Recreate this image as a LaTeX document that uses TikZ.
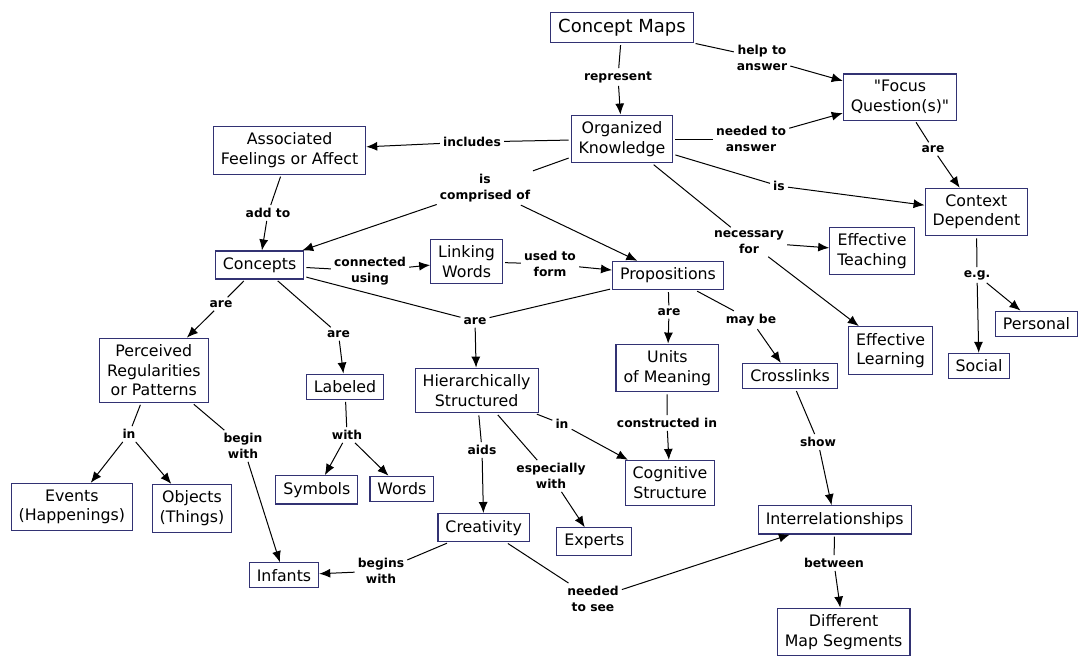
\documentclass[tikz,border=0pt]{standalone}
\usepackage{fontspec}
\setmainfont{DejaVu Sans}[Ligatures=TeXOff]
\usetikzlibrary{arrows.meta}
\definecolor{cmapblue}{RGB}{50,50,115}

\begin{document}
\begin{tikzpicture}[x=1pt,y=-1pt,
   concept/.style={draw=cmapblue,line width=1.1pt,fill=white,align=center,
     inner xsep=7.5pt,inner ysep=6.5pt,font=\fontsize{15.8}{19.5}\selectfont},
   linkword/.style={align=center,inner sep=3pt,font=\bfseries\fontsize{12.3}{16}\selectfont},
   plain/.style={line width=1pt,shorten <=2pt},
   arr/.style={line width=1pt,-{Latex[length=11pt,width=9pt]}}]
  \useasboundingbox (0,0) rectangle (1078,657);
  % concepts
  \node[concept,font=\fontsize{18}{21}\selectfont] (ConceptMaps) at (622,27.5) {Concept Maps};
  \node[concept] (Focus)      at (900,97)      {"Focus\\Question(s)"};
  \node[concept] (OrgKnow)    at (622,139)     {Organized\\Knowledge};
  \node[concept] (Associated) at (289.6,150.3) {Associated\\Feelings or Affect};
  \node[concept] (Context)    at (976.4,212)   {Context\\Dependent};
  \node[concept] (EffTeach)   at (872,251)     {Effective\\Teaching};
  \node[concept] (Concepts)   at (259.6,265)   {Concepts};
  \node[concept] (LinkWords)  at (466.6,261.5) {Linking\\Words};
  \node[concept] (Props)      at (668,275.5)   {Propositions};
  \node[concept] (Personal)   at (1036.5,323.7){Personal};
  \node[concept] (Social)     at (979,366)     {Social};
  \node[concept] (EffLearn)   at (890.7,350.5) {Effective\\Learning};
  \node[concept] (Crosslinks) at (790,376)     {Crosslinks};
  \node[concept] (Units)      at (667.4,368)   {Units\\of Meaning};
  \node[concept] (Perceived)  at (153.8,370.3) {Perceived\\Regularities\\or Patterns};
  \node[concept] (Labeled)    at (345,386.7)   {Labeled};
  \node[concept] (Hier)       at (476.6,390.5) {Hierarchically\\Structured};
  \node[concept] (Cognitive)  at (670,482.8)   {Cognitive\\Structure};
  \node[concept] (Events)     at (71.8,507)    {Events\\(Happenings)};
  \node[concept] (Objects)    at (192,508.3)   {Objects\\(Things)};
  \node[concept] (Symbols)    at (316.8,489.8) {Symbols};
  \node[concept] (Words)      at (401.9,488.8) {Words};
  \node[concept] (Interrel)   at (834.7,519.8) {Interrelationships};
  \node[concept] (Creativity) at (483.7,527.7) {Creativity};
  \node[concept] (Experts)    at (594.3,541.7) {Experts};
  \node[concept] (Infants)    at (284,575.3)   {Infants};
  \node[concept] (MapSeg)     at (843.6,632)   {Different\\Map Segments};
  % linking phrases
  \node[linkword] (Represent)   at (618,77)  {represent};
  \node[linkword] (HelpTo)      at (762,58)  {help to\\answer};
  \node[linkword] (NeededTo)    at (751,139) {needed to\\answer};
  \node[linkword] (AreFC)       at (933,149) {are};
  \node[linkword] (Is)          at (779,186) {is};
  \node[linkword] (Necessary)   at (749,242) {necessary\\for};
  \node[linkword] (EG)          at (977,275) {e.g.};
  \node[linkword] (Includes)    at (472,142) {includes};
  \node[linkword] (Comprised)   at (485,188) {is\\comprised of};
  \node[linkword] (AddTo)       at (268,213) {add to};
  \node[linkword] (Connected)   at (370,271) {connected\\using};
  \node[linkword] (UsedTo)      at (550,264) {used to\\form};
  \node[linkword] (ArePR)       at (221,304) {are};
  \node[linkword] (AreLab)      at (338.5,334) {are};
  \node[linkword] (AreHier)     at (475,321) {are};
  \node[linkword] (AreUnits)    at (669,312) {are};
  \node[linkword] (MayBe)       at (751,320) {may be};
  \node[linkword] (InPR)        at (129,434) {in};
  \node[linkword] (BeginWith)   at (243,446) {begin\\with};
  \node[linkword] (With)        at (347,435) {with};
  \node[linkword] (Aids)        at (482,450) {aids};
  \node[linkword] (Especially)  at (551,476) {especially\\with};
  \node[linkword] (InCog)       at (562,424) {in};
  \node[linkword] (Constructed) at (667,423) {constructed in};
  \node[linkword] (Show)        at (818,442) {show};
  \node[linkword] (BeginsWith)  at (381,571) {begins\\with};
  \node[linkword] (NeededSee)   at (593,599) {needed\\to see};
  \node[linkword] (Between)     at (834,563) {between};
  % concept to linking phrase
  \foreach \a/\b in {ConceptMaps/Represent,ConceptMaps/HelpTo,OrgKnow/NeededTo,
      Focus/AreFC,OrgKnow/Is,OrgKnow/Necessary,Context/EG,OrgKnow/Includes,
      OrgKnow/Comprised,Associated/AddTo,Concepts/Connected,LinkWords/UsedTo,
      Concepts/ArePR,Concepts/AreLab,Concepts/AreHier,Props/AreHier,Props/AreUnits,
      Props/MayBe,Perceived/InPR,Perceived/BeginWith,Labeled/With,Hier/Aids,
      Hier/Especially,Hier/InCog,Units/Constructed,Crosslinks/Show,
      Creativity/BeginsWith,Creativity/NeededSee,Interrel/Between}
    \draw[plain] (\a) -- (\b);
  % linking phrase to concept
  \foreach \a/\b in {Represent/OrgKnow,HelpTo/Focus,NeededTo/Focus,AreFC/Context,
      Is/Context,Necessary/EffTeach,Necessary/EffLearn,EG/Personal,EG/Social,
      Includes/Associated,Comprised/Concepts,Comprised/Props,AddTo/Concepts,
      Connected/LinkWords,UsedTo/Props,ArePR/Perceived,AreLab/Labeled,AreHier/Hier,
      AreUnits/Units,MayBe/Crosslinks,InPR/Events,InPR/Objects,BeginWith/Infants,
      With/Symbols,With/Words,Aids/Creativity,Especially/Experts,InCog/Cognitive,
      Constructed/Cognitive,Show/Interrel,BeginsWith/Infants,NeededSee/Interrel,
      Between/MapSeg}
    \draw[arr] (\a) -- (\b);
\end{tikzpicture}
\end{document}
